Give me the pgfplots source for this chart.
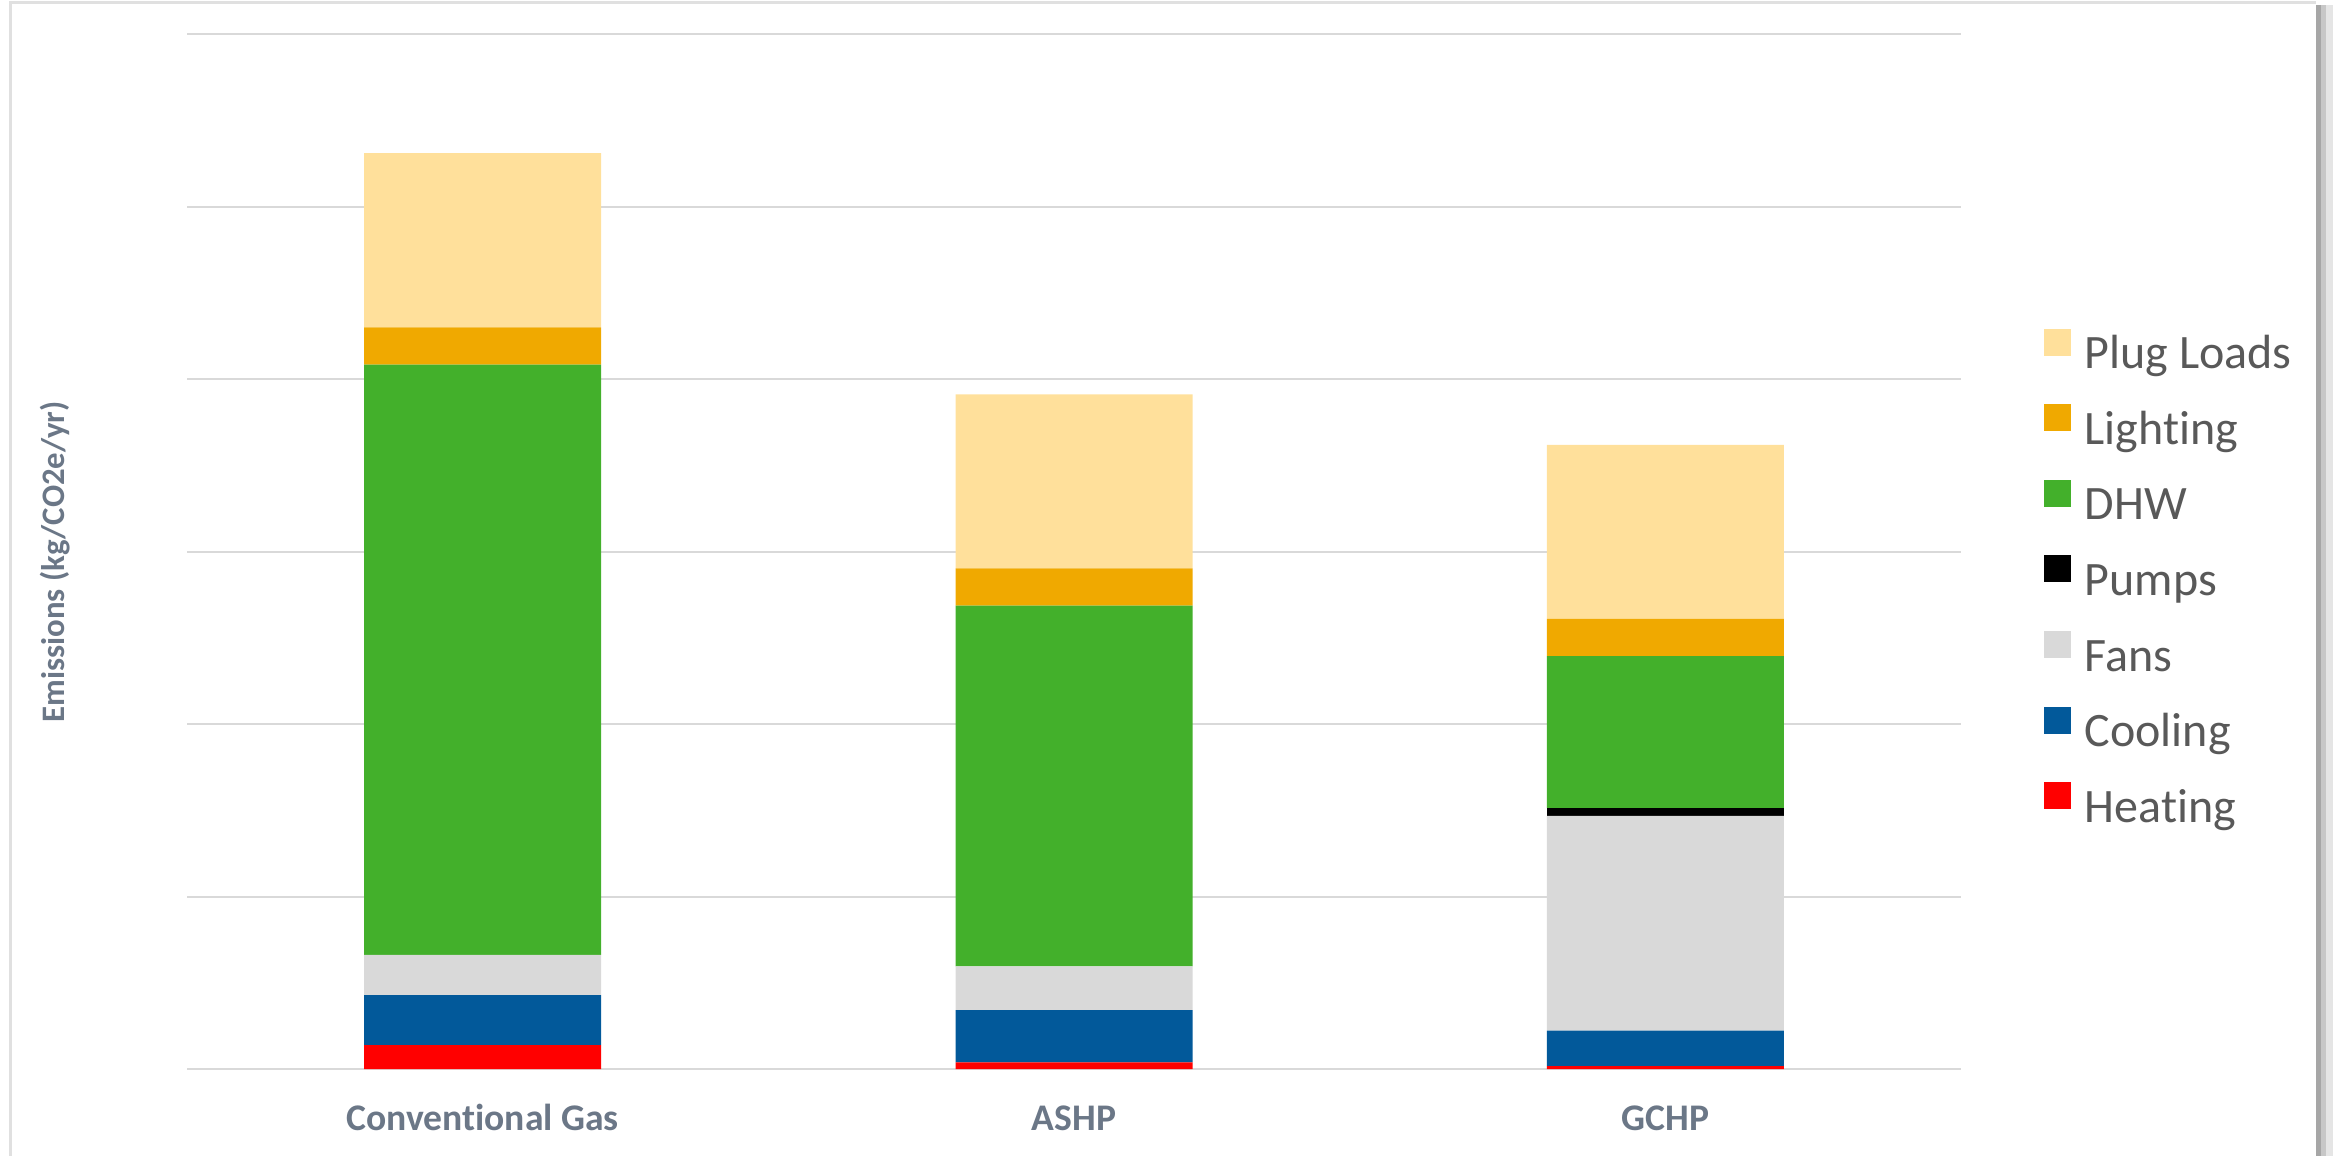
\documentclass[border=0pt]{standalone}
\usepackage{pgfplots}
\pgfplotsset{compat=1.18}
\usepackage{fontspec}
\setmainfont{Carlito}[Ligatures=NoCommon]
\definecolor{cPlug}{HTML}{FFE09B}
\definecolor{cLight}{HTML}{F0A900}
\definecolor{cDHW}{HTML}{43B02B}
\definecolor{cPump}{HTML}{000000}
\definecolor{cFans}{HTML}{D9D9D9}
\definecolor{cCool}{HTML}{02599A}
\definecolor{cHeat}{HTML}{FF0000}
\definecolor{labgray}{HTML}{6B7787}
\definecolor{leggray}{HTML}{595959}
\definecolor{gridgray}{HTML}{D9D9D9}
\begin{document}
\begin{tikzpicture}
\path[use as bounding box] (0pt,0pt) rectangle (583.25pt,289pt);
% chart frame and shadow
\draw[color=black!12, line width=0.75pt] (2.5pt,0pt) -- (2.5pt,288.4pt) -- (579pt,288.4pt);
\fill[color=black!35] (579pt,0pt) rectangle (580.25pt,287.75pt);
\fill[color=black!22] (580.25pt,0pt) rectangle (581.5pt,287.75pt);
\fill[color=black!10] (581.5pt,0pt) rectangle (583.25pt,287.75pt);
\begin{axis}[
  at={(46.75pt,21.75pt)}, anchor=south west,
  scale only axis, width=443.5pt, height=258.75pt,
  xmin=-0.5, xmax=2.5, ymin=0, ymax=6,
  ybar stacked, bar width=59.25pt,
  axis line style={draw=none},
  xtick={0,1,2},
  xticklabels={Conventional Gas, ASHP, GCHP},
  ytick={0,1,2,3,4,5,6}, yticklabels={},
  major tick length=0pt,
  ymajorgrids, major grid style={draw=gridgray, line width=0.5pt},
  xticklabel style={font=\fontsize{9.4pt}{11pt}\selectfont\bfseries, text=labgray, anchor=base, inner sep=0pt, yshift=-15.25pt},
  ylabel={Emissions (kg/CO2e/yr)},
  ylabel style={font=\fontsize{8.2pt}{10pt}\selectfont\bfseries, text=labgray, at={(axis description cs:-0.0688,0.49)}, anchor=base, inner sep=0pt},
  legend image code/.code={\fill[#1,draw=none] (0pt,0.25pt) rectangle (6.75pt,7pt);},
  reverse legend,
  legend cell align=left,
  legend style={draw=none, fill=none, inner sep=0pt, at={(axis description cs:1.0462,0.472)}, anchor=west,
    font=\fontsize{12pt}{14pt}\selectfont, text=leggray,
    nodes={inner sep=0pt, text height=8.5pt, text depth=2.5pt},
    row sep=6.4pt, column sep=3.5pt},
]
\addplot[fill=cHeat, draw=none] coordinates {(0,0.139) (1,0.039) (2,0.017)};
\addlegendentry{Heating}
\addplot[fill=cCool, draw=none] coordinates {(0,0.290) (1,0.303) (2,0.205)};
\addlegendentry{Cooling}
\addplot[fill=cFans, draw=none] coordinates {(0,0.232) (1,0.253) (2,1.245)};
\addlegendentry{Fans}
\addplot[fill=cPump, draw=none] coordinates {(0,0) (1,0) (2,0.046)};
\addlegendentry{Pumps}
\addplot[fill=cDHW, draw=none] coordinates {(0,3.423) (1,2.091) (2,0.880)};
\addlegendentry{DHW}
\addplot[fill=cLight, draw=none] coordinates {(0,0.216) (1,0.216) (2,0.216)};
\addlegendentry{Lighting}
\addplot[fill=cPlug, draw=none] coordinates {(0,1.009) (1,1.009) (2,1.009)};
\addlegendentry{Plug Loads}
\end{axis}
\end{tikzpicture}
\end{document}
